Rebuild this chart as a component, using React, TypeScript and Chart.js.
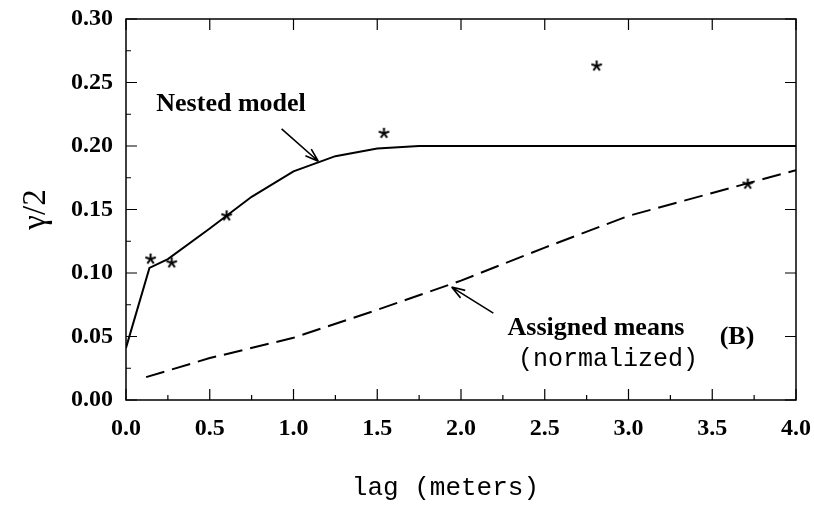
import React, { useEffect, useRef } from "react";
import { Chart, registerables } from "chart.js";

Chart.register(...registerables);

// Nested model (solid line)
const nestedLag = [0, 0.14, 0.25, 0.5, 0.75, 1.0, 1.25, 1.5, 1.75, 2.0, 4.0];
const nestedGamma = [0.041, 0.104, 0.111, 0.135, 0.16, 0.18, 0.192, 0.198, 0.2, 0.2, 0.2];

// Assigned means, normalized (dashed line)
const meansLag = [0.12, 0.5, 1.0, 1.5, 2.0, 2.5, 3.0, 3.5, 4.0];
const meansGamma = [0.018, 0.033, 0.049, 0.071, 0.094, 0.12, 0.145, 0.163, 0.181];

// Experimental semivariogram (stars)
const expLag = [0.147, 0.273, 0.601, 1.54, 2.81, 3.712];
const expGamma = [0.111, 0.108, 0.145, 0.21, 0.263, 0.17];

const xTicks = [0, 0.5, 1, 1.5, 2, 2.5, 3, 3.5, 4];
const yTicks = [0, 0.05, 0.1, 0.15, 0.2, 0.25, 0.3];

const SERIF = "'Liberation Serif', 'Times New Roman', serif";
const MONO = "'Liberation Mono', 'Courier New', monospace";

function makeStar(): HTMLCanvasElement {
  const c = document.createElement("canvas");
  c.width = 13;
  c.height = 13;
  const g = c.getContext("2d")!;
  g.strokeStyle = "#000";
  g.lineWidth = 2;
  g.lineCap = "butt";
  const cx = 6.5, cy = 6.5, r = 5.5;
  for (let i = 0; i < 5; i++) {
    const a = -Math.PI / 2 + (i * 2 * Math.PI) / 5;
    g.beginPath();
    g.moveTo(cx, cy);
    g.lineTo(cx + r * Math.cos(a), cy + r * Math.sin(a));
    g.stroke();
  }
  return c;
}

function arrow(ctx: CanvasRenderingContext2D, x1: number, y1: number, x2: number, y2: number) {
  ctx.beginPath();
  ctx.moveTo(x1, y1);
  ctx.lineTo(x2, y2);
  const ang = Math.atan2(y2 - y1, x2 - x1);
  const L = 14, spread = 0.32;
  ctx.moveTo(x2, y2);
  ctx.lineTo(x2 - L * Math.cos(ang - spread), y2 - L * Math.sin(ang - spread));
  ctx.moveTo(x2, y2);
  ctx.lineTo(x2 - L * Math.cos(ang + spread), y2 - L * Math.sin(ang + spread));
  ctx.stroke();
}

const framePlugin = {
  id: "frameAndAnnotations",
  afterDraw(chart: any) {
    const { ctx, chartArea } = chart;
    const xs = chart.scales.x;
    const ys = chart.scales.y;
    const { left, right, top, bottom } = chartArea;
    ctx.save();
    ctx.strokeStyle = "#000";
    ctx.lineWidth = 1.5;
    ctx.strokeRect(left, top, right - left, bottom - top);
    // inside tick marks
    ctx.beginPath();
    for (let v = 0; v <= 4.0001; v += 0.25) {
      const px = xs.getPixelForValue(v);
      const major = Math.abs(v / 0.5 - Math.round(v / 0.5)) < 1e-6;
      const len = major ? 11 : 5;
      ctx.moveTo(px, bottom);
      ctx.lineTo(px, bottom - len);
      if (major) {
        ctx.moveTo(px, top);
        ctx.lineTo(px, top + 11);
      }
    }
    for (let v = 0; v <= 0.30001; v += 0.025) {
      const py = ys.getPixelForValue(v);
      const major = Math.abs(v / 0.05 - Math.round(v / 0.05)) < 1e-6;
      const len = major ? 11 : 5;
      ctx.moveTo(left, py);
      ctx.lineTo(left + len, py);
      if (major) {
        ctx.moveTo(right, py);
        ctx.lineTo(right - 11, py);
      }
    }
    ctx.lineWidth = 1.2;
    ctx.stroke();

    // annotations
    const X = (v: number) => xs.getPixelForValue(v);
    const Y = (v: number) => ys.getPixelForValue(v);
    ctx.fillStyle = "#000";
    ctx.textAlign = "center";
    ctx.textBaseline = "middle";
    ctx.font = `bold 26px ${SERIF}`;
    ctx.fillText("Nested model", X(0.627), Y(0.2327));
    ctx.fillText("Assigned means", X(2.806), Y(0.0568));
    ctx.fillText("(B)", X(3.648), Y(0.0497));
    ctx.font = `25px ${MONO}`;
    ctx.fillText("(normalized)", X(2.878), Y(0.0323));
    ctx.lineWidth = 1.6;
    arrow(ctx, X(0.929), Y(0.2135), X(1.148), Y(0.188));
    arrow(ctx, X(2.193), Y(0.0684), X(1.944), Y(0.0889));
    ctx.restore();
  },
};

export default function App() {
  const ref = useRef<HTMLCanvasElement | null>(null);
  useEffect(() => {
    if (!ref.current) return;
    const star = makeStar();
    const chart = new Chart(ref.current, {
      type: "scatter",
      data: {
        datasets: [
          {
            label: "Nested model",
            data: nestedLag.map((x, i) => ({ x, y: nestedGamma[i] })),
            showLine: true,
            borderColor: "#000",
            borderWidth: 2,
            pointRadius: 0,
            tension: 0,
          },
          {
            label: "Assigned means (normalized)",
            data: meansLag.map((x, i) => ({ x, y: meansGamma[i] })),
            showLine: true,
            borderColor: "#000",
            borderWidth: 2,
            borderDash: [19, 8],
            pointRadius: 0,
            tension: 0,
          },
          {
            label: "Experimental",
            data: expLag.map((x, i) => ({ x, y: expGamma[i] })),
            showLine: false,
            pointStyle: star as any,
            pointRadius: 6,
          },
        ],
      },
      options: {
        responsive: false,
        animation: false,
        events: [],
        layout: { padding: { top: 19, right: 18, left: 0, bottom: 0 } },
        plugins: { legend: { display: false }, tooltip: { enabled: false } },
        scales: {
          x: {
            type: "linear",
            min: 0,
            max: 4,
            afterBuildTicks: (s: any) => {
              s.ticks = xTicks.map((v) => ({ value: v }));
            },
            afterFit: (s: any) => {
              s.height = 108;
              s.paddingLeft = 0;
              s.paddingRight = 0;
            },
            ticks: {
              callback: (v: any) => Number(v).toFixed(1),
              color: "#000",
              font: { family: SERIF, size: 24, weight: "bold" },
              padding: 14,
              maxRotation: 0,
            },
            grid: { display: false, drawTicks: false },
            border: { display: false },
            title: {
              display: true,
              text: "lag (meters)  ",
              color: "#000",
              font: { family: MONO, size: 26 },
              padding: { top: 0, bottom: 4 },
            },
          },
          y: {
            type: "linear",
            min: 0,
            max: 0.3,
            afterBuildTicks: (s: any) => {
              s.ticks = yTicks.map((v) => ({ value: v }));
            },
            afterFit: (s: any) => {
              s.width = 126;
              s.paddingTop = 0;
              s.paddingBottom = 0;
            },
            ticks: {
              callback: (v: any) => Number(v).toFixed(2),
              color: "#000",
              font: { family: SERIF, size: 24, weight: "bold" },
              padding: 13,
            },
            grid: { display: false, drawTicks: false },
            border: { display: false },
            title: {
              display: true,
              text: "γ/2",
              color: "#000",
              font: { family: SERIF, size: 33 },
              padding: { top: 17, bottom: 0 },
            },
          },
        },
      },
      plugins: [framePlugin],
    });
    return () => chart.destroy();
  }, []);
  return (
    <div style={{ position: "absolute", left: 0, top: 0, width: 814, height: 508, background: "#fff" }}>
      <canvas ref={ref} width={814} height={508} />
    </div>
  );
}
